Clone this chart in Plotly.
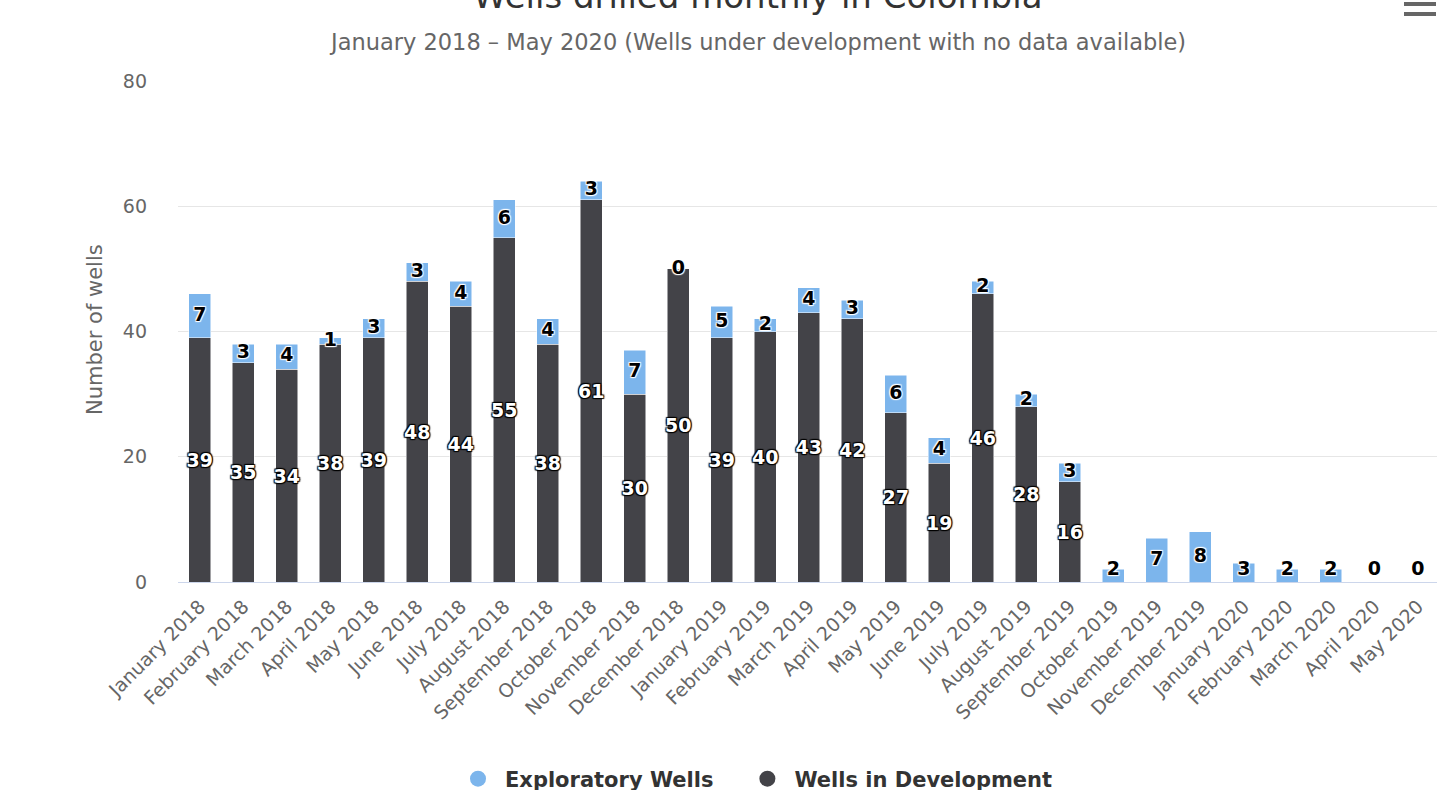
import plotly.graph_objects as go

months = ["January 2018", "February 2018", "March 2018", "April 2018", "May 2018", "June 2018",
          "July 2018", "August 2018", "September 2018", "October 2018", "November 2018", "December 2018",
          "January 2019", "February 2019", "March 2019", "April 2019", "May 2019", "June 2019",
          "July 2019", "August 2019", "September 2019", "October 2019", "November 2019", "December 2019",
          "January 2020", "February 2020", "March 2020", "April 2020", "May 2020"]

development = [39, 35, 34, 38, 39, 48, 44, 55, 38, 61, 30, 50,
               39, 40, 43, 42, 27, 19, 46, 28, 16, None, None, None,
               None, None, None, None, None]

exploratory = [7, 3, 4, 1, 3, 3, 4, 6, 4, 3, 7, 0,
               5, 2, 4, 3, 6, 4, 2, 2, 3, 2, 7, 8,
               3, 2, 2, 0, 0]

y_ticks = [0, 20, 40, 60, 80]

C_EXP = "#7cb5ec"
C_DEV = "#434348"
FONT = "DejaVu Sans"
LABEL_SIZE = 19

DARK_OUTLINE = "1px 1px 1px #000, -1px -1px 1px #000, 1px -1px 1px #000, -1px 1px 1px #000"
LIGHT_OUTLINE = "1px 1px 1px #fff, -1px -1px 1px #fff, 1px -1px 1px #fff, -1px 1px 1px #fff"

# label position for exploratory values: middle of the stacked segment,
# kept inside the plot area like the original chart does
exp_label_y = []
for d, e in zip(development, exploratory):
    base = d if d is not None else 0
    exp_label_y.append(max(base + e / 2, 1.9))

fig = go.Figure()

fig.add_trace(go.Bar(
    x=months, y=development, name="Wells in Development",
    marker=dict(color=C_DEV, line=dict(width=0.5, color="#ffffff")),
    text=[("" if v is None else str(v)) for v in development],
    textposition="inside", insidetextanchor="middle", textangle=0,
    textfont=dict(family=FONT, size=LABEL_SIZE, color="#ffffff", weight="bold", shadow=DARK_OUTLINE),
    cliponaxis=False, showlegend=False, hoverinfo="x+y",
))
fig.add_trace(go.Bar(
    x=months, y=exploratory, name="Exploratory Wells",
    marker=dict(color=C_EXP, line=dict(width=0.5, color="#ffffff")),
    cliponaxis=False, showlegend=False, hoverinfo="x+y",
))
fig.add_trace(go.Scatter(
    x=months, y=exp_label_y, mode="text", text=[str(v) for v in exploratory],
    textposition="middle center",
    textfont=dict(family=FONT, size=LABEL_SIZE, color="#000000", weight="bold", shadow=LIGHT_OUTLINE),
    cliponaxis=False, showlegend=False, hoverinfo="skip",
))

# legend entries with circular symbols (Highcharts style)
fig.add_trace(go.Scatter(x=[None], y=[None], mode="markers",
                         name="Exploratory Wells\u00a0\u00a0\u00a0",
                         marker=dict(color=C_EXP, size=20, symbol="circle")))
fig.add_trace(go.Scatter(x=[None], y=[None], mode="markers", name="Wells in Development",
                         marker=dict(color=C_DEV, size=20, symbol="circle")))

PW = 1259.0
PH = 501.0

fig.update_layout(
    width=1437, height=790,
    margin=dict(l=178, r=0, t=81, b=208, autoexpand=False),
    barmode="stack", bargap=0.5,
    plot_bgcolor="#ffffff", paper_bgcolor="#ffffff",
    font=dict(family=FONT, color="#666666"),
    uniformtext=dict(mode="show", minsize=LABEL_SIZE),
    showlegend=True,
    legend=dict(orientation="h", x=(451 - 178) / PW, xanchor="left",
                y=(582 - 779) / PH, yanchor="middle",
                font=dict(family=FONT, size=21, color="#333333", weight="bold"),
                itemsizing="trace", traceorder="normal", itemwidth=44),
    xaxis=dict(type="category", range=[-0.5, 28.44], tickangle=-45,
               tickfont=dict(family=FONT, size=19, color="#666666"),
               showline=True, linecolor="#ccd6eb", linewidth=1, showgrid=False,
               ticks="", ticklabelstandoff=5, fixedrange=True),
    yaxis=dict(range=[0, 80], tickvals=y_ticks, showgrid=True, gridcolor="#e6e6e6",
               zeroline=False, showline=False, ticklabelstandoff=30,
               tickfont=dict(family=FONT, size=19, color="#666666"), fixedrange=True),
    annotations=[
        dict(text="Wells drilled monthly in Colombia", xref="paper", yref="paper",
             x=(757 - 178) / PW, y=(582 + 4) / PH, xanchor="center", yanchor="middle",
             showarrow=False, font=dict(family=FONT, size=34, color="#333333")),
        dict(text="January 2018 – May 2020 (Wells under development with no data available)",
             xref="paper", yref="paper", x=(757 - 178) / PW, y=(582 - 42) / PH,
             xanchor="center", yanchor="middle", showarrow=False,
             font=dict(family=FONT, size=22.5, color="#666666")),
        dict(text="Number of wells", xref="paper", yref="paper",
             x=(95 - 178) / PW, y=(582 - 330) / PH, xanchor="center", yanchor="middle",
             textangle=-90, showarrow=False, font=dict(family=FONT, size=21, color="#666666")),
    ],
    shapes=[
        dict(type="rect", xref="paper", yref="paper",
             x0=(1404 - 178) / PW, x1=(1436 - 178) / PW,
             y0=(582 - 6) / PH, y1=(582 - 2) / PH,
             fillcolor="#666666", line=dict(width=0)),
        dict(type="rect", xref="paper", yref="paper",
             x0=(1404 - 178) / PW, x1=(1436 - 178) / PW,
             y0=(582 - 16) / PH, y1=(582 - 12) / PH,
             fillcolor="#666666", line=dict(width=0)),
    ],
)

fig.write_html("out.html", config={"displayModeBar": False},
               post_script="document.body.style.margin='0';")
